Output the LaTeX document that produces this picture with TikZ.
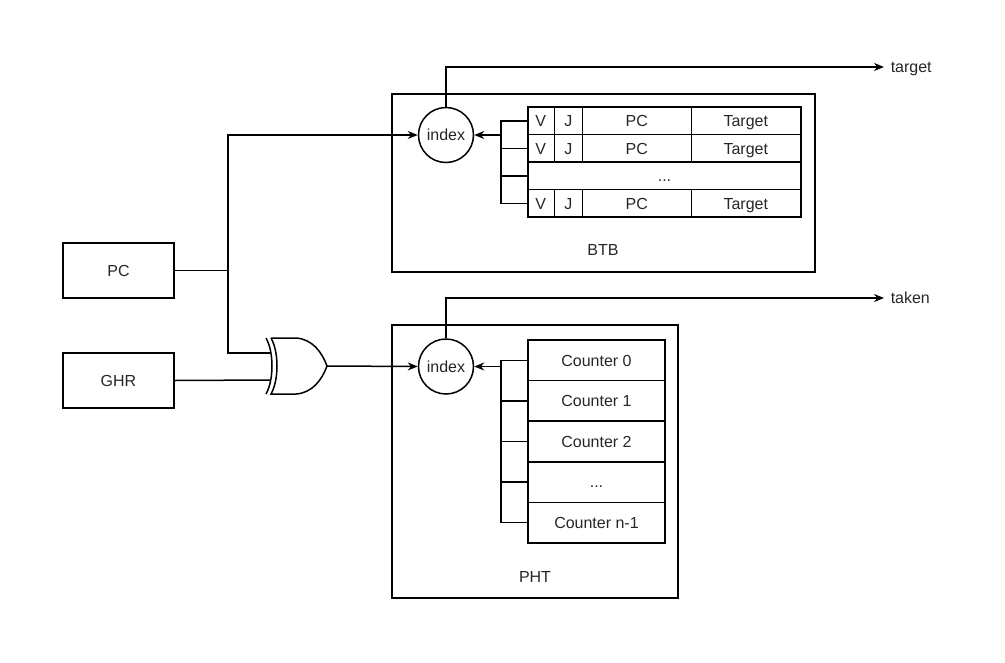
\documentclass[tikz,border=0pt]{standalone}
\usepackage{fontspec}
\setmainfont{Liberation Sans}
\usetikzlibrary{arrows.meta}
\begin{document}
\begin{tikzpicture}[x=1pt,y=-1pt,
  line width=1.5pt,
  every node/.style={font=\fontsize{16}{19}\selectfont, text=black!85, text height=13.5pt, text depth=2pt},
  blk/.style={draw, minimum width=111pt, minimum height=55pt},
  idx/.style={draw, circle, minimum size=55pt, inner sep=0pt},
  btbrow/.style={draw, minimum width=273pt, minimum height=27.5pt, inner sep=0pt},
  phtrow/.style={draw, minimum width=137pt, minimum height=40.6pt, inner sep=0pt},
  cont/.style={draw},
  arr/.style={-{Stealth[length=10pt,width=8pt]}},
  outlbl/.style={anchor=west, inner sep=0pt}
]
\useasboundingbox (0,0) rectangle (1005,662);

% source blocks
\node[blk] (pc) at (118.5,270.5) {PC};
\node[blk] (ghr) at (118.5,380.5) {GHR};

% containers
\node[cont, minimum width=423pt, minimum height=178pt, inner sep=0pt] (btb) at (603.5,183) {};
\node at (603,250) {BTB};
\node[cont, minimum width=286pt, minimum height=273pt, inner sep=0pt] (pht) at (535,461.5) {};
\node at (535,577) {PHT};

% index circles
\node[idx, fill=white] (bidx) at (446,135) {index};
\node[idx, fill=white] (pidx) at (446,366.5) {index};

% BTB table rows
\node[btbrow] (b1) at (664.5,120.75) {};
\node[btbrow] (b2) at (664.5,148.25) {};
\node[btbrow] (b3) at (664.5,175.75) {...};
\node[btbrow] (b4) at (664.5,203.25) {};
\foreach \r in {b1,b2,b4}{
  \draw ([xshift=27pt]\r.north west) -- ([xshift=27pt]\r.south west);
  \draw ([xshift=55pt]\r.north west) -- ([xshift=55pt]\r.south west);
  \draw ([xshift=164pt]\r.north west) -- ([xshift=164pt]\r.south west);
  \node at ([xshift=13.5pt]\r.west) {V};
  \node at ([xshift=41pt]\r.west) {J};
  \node at ([xshift=109.5pt]\r.west) {PC};
  \node at ([xshift=218.5pt]\r.west) {Target};
}

% PHT table rows
\node[phtrow] (p1) at (596.5,360.3) {Counter 0};
\node[phtrow] (p2) at (596.5,400.9) {Counter 1};
\node[phtrow] (p3) at (596.5,441.5) {Counter 2};
\node[phtrow] (p4) at (596.5,482.1) {...};
\node[phtrow] (p5) at (596.5,522.7) {Counter n-1};

% brackets
\coordinate (bb) at (501,135);
\draw (b1.west) -| (501,203.25) -- (b4.west);
\draw (b2.west) -- (501,148.25);
\draw (b3.west) -- (501,175.75);
\draw[arr] (bb) -- (bidx.east);

\coordinate (pb) at (501,366.5);
\draw (p1.west) -| (501,522.7) -- (p5.west);
\draw (p2.west) -- (501,400.9);
\draw (p3.west) -- (501,441.5);
\draw (p4.west) -- (501,482.1);
\draw[arr] (pb) -- (pidx.east);

% XOR gate
\coordinate (xin1) at (270,353);
\coordinate (xin2) at (270,380);
\coordinate (xout) at (327,366);
\draw (266,338) .. controls (274,352) and (274,380) .. (266,394);
\draw (271,338) -- (296,338) .. controls (312,339) and (322,352) .. (xout)
      .. controls (322,380) and (312,393) .. (296,394) -- (271,394)
      .. controls (279,380) and (279,352) .. (271,338);

% wires
\coordinate (j) at (228,270.5);
\draw (pc.east) -- (j);
\draw[arr] (j) |- (bidx.west);
\draw (j) |- (xin1);
\draw (ghr.east) -- (xin2);
\draw[arr] (xout) -- (pidx.west);

% outputs
\node[outlbl] (target) at (890,67) {target};
\node[outlbl] (taken) at (890,298) {taken};
\draw[arr] (bidx.north) |- ([xshift=-6pt]target.west);
\draw[arr] (pidx.north) |- ([xshift=-6pt]taken.west);
\end{tikzpicture}
\end{document}
